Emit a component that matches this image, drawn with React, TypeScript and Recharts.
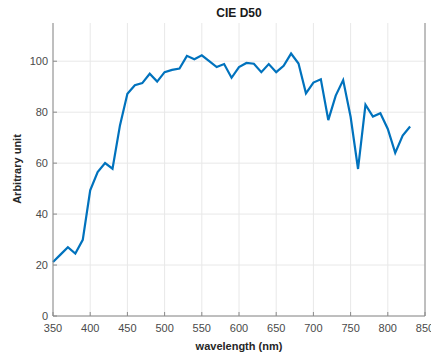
import { LineChart, Line, XAxis, YAxis, CartesianGrid } from 'recharts'

const wavelengths = [
    350, 360, 370, 380, 390, 400, 410, 420, 430, 440, 450, 460, 470, 480, 490, 500, 510,
    520, 530, 540, 550, 560, 570, 580, 590, 600, 610, 620, 630, 640, 650, 660, 670, 680,
    690, 700, 710, 720, 730, 740, 750, 760, 770, 780, 790, 800, 810, 820, 830,
]

const intensity = [
    21.2, 24.1, 27.0, 24.5, 29.9, 49.3, 56.5, 60.0, 57.8, 74.8, 87.2, 90.6, 91.4, 95.1, 92.0,
    95.7, 96.6, 97.1, 102.1, 100.8, 102.3, 100.0, 97.7, 98.9, 93.5, 97.7, 99.3, 99.0, 95.7,
    98.9, 95.7, 98.2, 103.0, 99.1, 87.4, 91.6, 92.9, 76.9, 86.5, 92.6, 78.2, 57.7, 82.9,
    78.3, 79.6, 73.4, 64.0, 70.8, 74.4,
]

const xTicks = [350, 400, 450, 500, 550, 600, 650, 700, 750, 800, 850]
const yTicks = [0, 20, 40, 60, 80, 100]

const data = wavelengths.map((w, i) => ({ wavelength: w, value: intensity[i] }))

const font = "'Liberation Sans', Arial, sans-serif"
const axisColor = '#8a8a8a'
const textColor = '#4a4a4a'

const BottomTick = (props: any) => {
    const { x, y, payload } = props
    return (
        <g>
            <line x1={x} y1={y} x2={x} y2={y - 4} stroke={axisColor} />
            <text x={x} y={y + 8} dy='0.71em' textAnchor='middle' fill={textColor} fontSize={11} fontFamily={font}>
                {payload.value}
            </text>
        </g>
    )
}

const TopTick = (props: any) => {
    const { x, y } = props
    return <line x1={x} y1={y} x2={x} y2={y + 4} stroke={axisColor} />
}

const LeftTick = (props: any) => {
    const { x, y, payload } = props
    return (
        <g>
            <line x1={x} y1={y} x2={x + 4} y2={y} stroke={axisColor} />
            <text x={x - 5} y={y} dy='0.355em' textAnchor='end' fill={textColor} fontSize={11} fontFamily={font}>
                {payload.value}
            </text>
        </g>
    )
}

const RightTick = (props: any) => {
    const { x, y } = props
    return <line x1={x} y1={y} x2={x - 4} y2={y} stroke={axisColor} />
}

export default function App() {
    return (
        <div style={{ position: 'absolute', left: 0, top: 0, width: 431, height: 354, fontFamily: font }}>
            <div
                style={{
                    position: 'absolute',
                    left: 239,
                    top: 13,
                    transform: 'translate(-50%, -50%)',
                    fontSize: 12,
                    fontWeight: 'bold',
                    color: '#1a1a1a',
                    whiteSpace: 'nowrap',
                }}
            >
                CIE D50
            </div>
            <div
                style={{
                    position: 'absolute',
                    left: 239,
                    top: 346,
                    transform: 'translate(-50%, -50%)',
                    fontSize: 11,
                    fontWeight: 'bold',
                    color: '#262626',
                    whiteSpace: 'nowrap',
                }}
            >
                wavelength (nm)
            </div>
            <div
                style={{
                    position: 'absolute',
                    left: 17,
                    top: 169,
                    transform: 'translate(-50%, -50%) rotate(-90deg)',
                    fontSize: 11,
                    fontWeight: 'bold',
                    color: '#262626',
                    whiteSpace: 'nowrap',
                }}
            >
                Arbitrary unit
            </div>
            <LineChart width={431} height={354} data={data} margin={{ top: 23, right: 0, left: 0, bottom: 0 }}>
                <CartesianGrid stroke='#e8e8e8' horizontalValues={yTicks} verticalValues={xTicks} />
                <XAxis
                    dataKey='wavelength'
                    type='number'
                    domain={[350, 850]}
                    ticks={xTicks}
                    interval={0}
                    height={38}
                    tickSize={0}
                    tickMargin={0}
                    tickLine={false}
                    stroke={axisColor}
                    tick={BottomTick}
                />
                <XAxis
                    xAxisId='top'
                    orientation='top'
                    dataKey='wavelength'
                    type='number'
                    domain={[350, 850]}
                    ticks={xTicks}
                    interval={0}
                    height={0}
                    tickSize={0}
                    tickMargin={0}
                    tickLine={false}
                    stroke={axisColor}
                    tick={TopTick}
                />
                <YAxis
                    type='number'
                    domain={[0, 115]}
                    ticks={yTicks}
                    interval={0}
                    width={53}
                    tickSize={0}
                    tickMargin={0}
                    tickLine={false}
                    stroke={axisColor}
                    tick={LeftTick}
                />
                <YAxis
                    yAxisId='right'
                    orientation='right'
                    type='number'
                    domain={[0, 115]}
                    ticks={yTicks}
                    interval={0}
                    width={6}
                    tickSize={0}
                    tickMargin={0}
                    tickLine={false}
                    stroke={axisColor}
                    tick={RightTick}
                />
                <Line
                    dataKey='value'
                    stroke='#0072BD'
                    strokeWidth={2.2}
                    dot={false}
                    isAnimationActive={false}
                />
            </LineChart>
        </div>
    )
}
